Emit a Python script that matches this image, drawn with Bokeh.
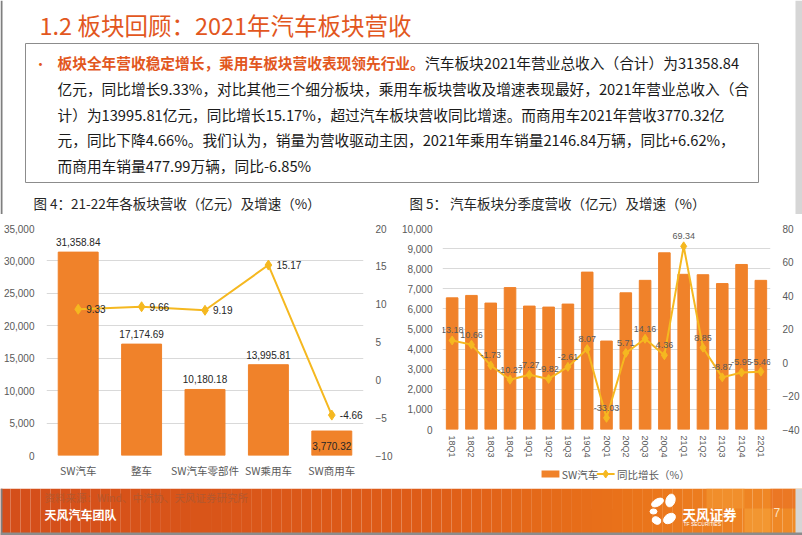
from bokeh.plotting import figure
from bokeh.layouts import column, row
from bokeh.models import (Range1d, FactorRange, LinearAxis, SingleIntervalTicker,
                          NumeralTickFormatter)
from bokeh.core.properties import value
from bokeh.embed import file_html
from bokeh.resources import INLINE

# ---------------- data ----------------
segments = ["SW汽车", "整车", "SW汽车零部件", "SW乘用车", "SW商用车"]
segment_revenue = [31358.84, 17174.69, 10180.18, 13995.81, 3770.32]
segment_growth = [9.33, 9.66, 9.19, 15.17, -4.66]

quarters = ["18Q1", "18Q2", "18Q3", "18Q4", "19Q1", "19Q2", "19Q3", "19Q4",
            "20Q1", "20Q2", "20Q3", "20Q4", "21Q1", "21Q2", "21Q3", "21Q4", "22Q1"]
quarter_revenue = [6550, 6670, 6290, 7060, 6140, 6090, 6240, 7830,
                   4400, 6800, 7420, 8790, 7720, 7700, 7260, 8210, 7420]
quarter_growth = [13.18, 10.66, -1.73, -10.27, -7.27, -9.82, -2.61, 8.07,
                  -33.03, 5.71, 14.16, 4.36, 69.34, 8.85, -8.87, -5.95, -5.46]

title_text = "1.2 板块回顾：2021年汽车板块营收"
lead_text = "板块全年营收稳定增长，乘用车板块营收表现领先行业。"
body_lines = [
    "汽车板块2021年营业总收入（合计）为31358.84",
    "亿元，同比增长9.33%，对比其他三个细分板块，乘用车板块营收及增速表现最好，2021年营业总收入（合",
    "计）为13995.81亿元，同比增长15.17%，超过汽车板块营收同比增速。而商用车2021年营收3770.32亿",
    "元，同比下降4.66%。我们认为，销量为营收驱动主因，2021年乘用车销量2146.84万辆，同比+6.62%，",
    "而商用车销量477.99万辆，同比-6.85%",
]
chart1_title = "图 4：21-22年各板块营收（亿元）及增速（%）"
chart2_title = "图 5： 汽车板块分季度营收（亿元）及增速（%）"
legend_labels = ["SW汽车", "同比增长（%）"]
source_text = "资料来源：Wind、中汽协、天风证券研究所"
team_text = "天风汽车团队"
brand_text = "天风证券"
brand_sub = "TF SECURITIES"
page_no = "7"

# ---------------- style ----------------
CJK = "Noto Sans CJK SC"
LAT = "Liberation Sans"
RED = "#E2571E"
BAR = "#F0822A"
LINE = "#F5B820"
GRID = "#D9D9D9"
AX = "#595959"
DARK = "#262626"


def blank(width, height, x0, x1, y0, y1):
    f = figure(width=width, height=height, x_range=Range1d(x0, x1), y_range=Range1d(y1, y0),
               x_axis_type=None, y_axis_type=None, toolbar_location=None,
               output_backend="svg", min_border=0, outline_line_color=None)
    f.min_border_left = f.min_border_right = f.min_border_top = f.min_border_bottom = 0
    f.background_fill_color = "white"
    f.border_fill_color = "white"
    return f


# ---------------- header (slide y 0..214) ----------------
hdr = blank(802, 214, 0, 802, 0, 214)
hdr.text(x=[39], y=[24], text=[title_text], text_font=value(CJK), text_font_size="23.5px",
         text_color=RED, text_baseline="middle", text_align="left")
hdr.quad(left=[25], right=[758], top=[43], bottom=[182], fill_color="white",
         line_color="#8C8C8C", line_width=1)
hdr.text(x=[33], y=[62], text=["•"], text_font=value(CJK), text_font_size="14px",
         text_color=RED, text_baseline="middle")
hdr.text(x=[57], y=[62], text=[lead_text], text_font=value(CJK), text_font_size="14.7px",
         text_color=RED, text_font_style="bold", text_baseline="middle")
line_y = [62, 88, 114, 139, 165]
line_x = [424.5, 57, 57, 57, 57]
hdr.text(x=line_x, y=line_y, text=body_lines, text_font=value(CJK), text_font_size="14.7px",
         text_color="#1A1A1A", text_baseline="middle")
hdr.text(x=[33, 409], y=[202, 202], text=[chart1_title, chart2_title], text_font=value(CJK),
         text_font_size="13.5px", text_color=DARK, text_baseline="middle")
hdr.quad(left=[0], right=[2], top=[0], bottom=[214], color="#7F7F7F", line_width=0)
hdr.quad(left=[795], right=[802], top=[0], bottom=[214], color="#D6D6D6", line_width=0)

# ---------------- chart 1 (slide x 0..398, y 214..488) ----------------
p1 = figure(width=398, frame_height=227, x_range=FactorRange(*segments),
            y_range=Range1d(0, 35000), toolbar_location=None, output_backend="svg",
            outline_line_color=None, min_border=0)
p1.min_border_left = 45
p1.min_border_right = 35
p1.min_border_top = 14
p1.min_border_bottom = 33
p1.extra_y_ranges = {"pct": Range1d(-10, 20)}
p1.vbar(x=segments, top=segment_revenue, width=0.63, color=BAR)
p1.line(x=segments, y=segment_growth, y_range_name="pct", color=LINE, line_width=2)
p1.scatter(x=segments, y=segment_growth, y_range_name="pct", marker="diamond", size=10,
           color=LINE)
bar_offsets = [-10 if v > 5000 else 15 for v in segment_revenue]
p1.text(x=segments, y=segment_revenue, text=[f"{v:,.2f}" for v in segment_revenue],
        y_offset=bar_offsets, text_align="center", text_baseline="middle",
        text_font=value(LAT), text_font_size="10px", text_color=DARK)
p1.text(x=segments, y=segment_growth, y_range_name="pct",
        text=[f"{v:.2f}" for v in segment_growth], x_offset=8, text_align="left",
        text_baseline="middle", text_font=value(LAT), text_font_size="10px", text_color=DARK)
p1.yaxis.ticker = SingleIntervalTicker(interval=5000)
p1.yaxis.formatter = NumeralTickFormatter(format="0,0")
ax_r1 = LinearAxis(y_range_name="pct", ticker=SingleIntervalTicker(interval=5))
p1.add_layout(ax_r1, "right")
p1.xgrid.grid_line_color = None
p1.ygrid.grid_line_color = GRID

# ---------------- chart 2 (slide x 398..802, y 214..462) ----------------
p2 = figure(width=404, frame_height=201, x_range=FactorRange(*quarters),
            y_range=Range1d(0, 10000), toolbar_location=None, output_backend="svg",
            outline_line_color=None, min_border=0)
p2.min_border_left = 37
p2.min_border_right = 30
p2.min_border_top = 14
p2.min_border_bottom = 33
p2.extra_y_ranges = {"pct": Range1d(-40, 80)}
p2.vbar(x=quarters, top=quarter_revenue, width=0.6, color=BAR)
p2.line(x=quarters, y=quarter_growth, y_range_name="pct", color=LINE, line_width=2)
p2.scatter(x=quarters, y=quarter_growth, y_range_name="pct", marker="diamond", size=9,
           color=LINE)
p2.text(x=quarters, y=quarter_growth, y_range_name="pct",
        text=[f"{v:.2f}" for v in quarter_growth], y_offset=-7, text_align="center",
        text_baseline="bottom", text_font=value(LAT), text_font_size="9px", text_color=AX)
p2.yaxis.ticker = SingleIntervalTicker(interval=1000)
p2.yaxis.formatter = NumeralTickFormatter(format="0,0")
ax_r2 = LinearAxis(y_range_name="pct", ticker=SingleIntervalTicker(interval=20))
p2.add_layout(ax_r2, "right")
p2.xgrid.grid_line_color = None
p2.ygrid.grid_line_color = GRID
p2.xaxis.major_label_orientation = "vertical"

for p, std in ((p1, 7), (p2, 6)):
    for ax in p.axis:
        ax.axis_line_color = None
        ax.major_tick_line_color = None
        ax.minor_tick_line_color = None
        ax.major_tick_out = 0
        ax.major_tick_in = 0
        ax.major_label_text_color = AX
        ax.major_label_text_font_size = "10px"
        ax.major_label_text_font = LAT
        ax.major_label_standoff = 8
    p.xaxis.major_label_standoff = std
    p.background_fill_color = "white"
    p.border_fill_color = "white"
p1.xaxis.major_label_text_font = CJK
p1.xaxis.major_label_text_font_size = "10.5px"
p2.xaxis.major_label_text_font_size = "9px"
p1.yaxis[0].major_label_standoff = 8
p2.yaxis[0].major_label_standoff = 6

# ---------------- legend strip for chart 2 (slide x 398..802, y 462..488) ----------------
lg = blank(404, 26, 398, 802, 462, 488)
lg.quad(left=[520], right=[542], top=[470], bottom=[477], color=BAR, line_width=0)
lg.line(x=[588, 610], y=[473.5, 473.5], color=LINE, line_width=2)
lg.scatter(x=[599], y=[473.5], marker="diamond", size=8, color=LINE)
lg.text(x=[545, 613], y=[473.5, 473.5], text=legend_labels, text_font=value(CJK),
        text_font_size="10.5px", text_color=AX, text_baseline="middle")

# ---------------- footer (slide y 488..535) ----------------
ft = blank(802, 47, 0, 802, 488, 535)
stops = [(0, (212, 78, 26)), (420, (222, 92, 24)), (640, (234, 116, 26)), (802, (240, 140, 40))]


def col_at(x):
    for (xa, ca), (xb, cb) in zip(stops[:-1], stops[1:]):
        if xa <= x <= xb:
            t = (x - xa) / (xb - xa)
            return "#%02x%02x%02x" % tuple(int(round(a + (b - a) * t)) for a, b in zip(ca, cb))
    return "#%02x%02x%02x" % stops[-1][1]


n = 80
edges = [802 * i / n for i in range(n + 1)]
ft.quad(left=edges[:-1], right=edges[1:], top=[488] * n, bottom=[535] * n,
        color=[col_at((a + b) / 2) for a, b in zip(edges[:-1], edges[1:])], line_width=0)
ft.quad(left=[706, 744, 770], right=[744, 770, 795], top=[488, 508, 488], bottom=[508, 532, 508],
        color=["#F49A34", "#F6A43C", "#E86A22"], alpha=0.55, line_width=0)
ft.text(x=[44], y=[497], text=[source_text], text_font=value(CJK), text_font_size="10.5px",
        text_color="#B4582E", text_baseline="middle")
ft.text(x=[44], y=[514], text=[team_text], text_font=value(CJK), text_font_size="12px",
        text_font_style="bold", text_color="white", text_baseline="middle")
ft.ellipse(x=[657, 670, 653, 656, 669], y=[502, 500, 511, 520, 518],
           width=[13, 9, 7, 9, 13], height=[7, 13, 5, 7, 9],
           angle=[0.5, -0.3, 0, -0.4, 0.6], color="white")
ft.text(x=[682], y=[513], text=[brand_text], text_font=value(CJK), text_font_size="13.5px",
        text_font_style="bold", text_color="white", text_baseline="middle")
ft.text(x=[683], y=[523.5], text=[brand_sub], text_font=value(LAT), text_font_size="5px",
        text_color="white", text_baseline="middle")
ft.text(x=[773], y=[512], text=[page_no], text_font=value(LAT), text_font_size="12px",
        text_color="#FBE2C2", text_baseline="middle")
ft.quad(left=[0, 795, 0], right=[2, 802, 802], top=[488, 488, 532], bottom=[535, 535, 535],
        color=["#7F7F7F", "#D6D6D6", "#8C8C8C"], line_width=0)

layout = column(hdr, row(column(p1), column(p2, lg)), ft)
open("out.html", "w").write(file_html(layout, INLINE))
